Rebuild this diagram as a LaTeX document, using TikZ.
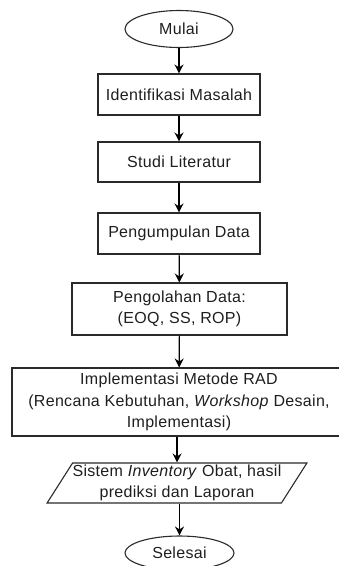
\documentclass[tikz,border=0pt]{standalone}
\usepackage{fontspec}
\setmainfont{Liberation Sans}[LetterSpace=2]
\usetikzlibrary{shapes.geometric,arrows.meta}
\definecolor{edge}{HTML}{2A2A2A}
\definecolor{txt}{HTML}{1E1E1E}
\tikzset{
  lbl/.style={text=txt, font=\fontsize{16}{21.5}\selectfont},
  box/.style={lbl, draw=edge, line width=1.1pt, rectangle, inner sep=0pt, align=center},
  term/.style={lbl, draw=edge, line width=1.1pt, ellipse, inner sep=0pt},
  io/.style={lbl, draw=edge, line width=1.1pt, trapezium, trapezium left angle=55, trapezium right angle=125,
    trapezium stretches=true, inner sep=0pt, align=center},
  flow/.style={draw=black, line width=1.2pt, -{Stealth[length=9pt,width=9pt,inset=3pt]}}
}
\begin{document}
\begin{tikzpicture}[x=1pt,y=-1pt]
\useasboundingbox (0,0) rectangle (338,566);
\node[term, minimum width=108, minimum height=37] (mulai) at (179,29) {Mulai};
\node[box, minimum width=162, minimum height=41] (idm) at (179,94.5) {Identifikasi Masalah};
\node[box, minimum width=162, minimum height=40] (stl) at (179,162) {Studi Literatur};
\node[box, minimum width=162, minimum height=41] (pgd) at (179,233.5) {Pengumpulan Data};
\node[box, minimum width=215, minimum height=52] (pld) at (179.5,309) {Pengolahan Data:\\(EOQ, SS, ROP)};
\node[box, minimum width=334, minimum height=68] (rad) at (179,402) {Implementasi Metode RAD\\(Rencana Kebutuhan, \textit{Workshop} Desain,\\Implementasi)};
\node[io, minimum width=260, minimum height=40] (out) at (177,483) {Sistem \textit{Inventory} Obat, hasil\\prediksi dan Laporan};
\node[term, minimum width=109, minimum height=34] (sls) at (179.5,553) {Selesai};
\draw[flow] (mulai) -- (idm);
\draw[flow] (idm) -- (stl);
\draw[flow] (stl) -- (pgd);
\draw[flow] (pgd) -- (pld);
\draw[flow] (pld) -- (rad);
\draw[flow] (rad.south -| out.north) -- (out.north);
\draw[flow] (out.south -| sls.north) -- (sls.north);
\end{tikzpicture}
\end{document}
